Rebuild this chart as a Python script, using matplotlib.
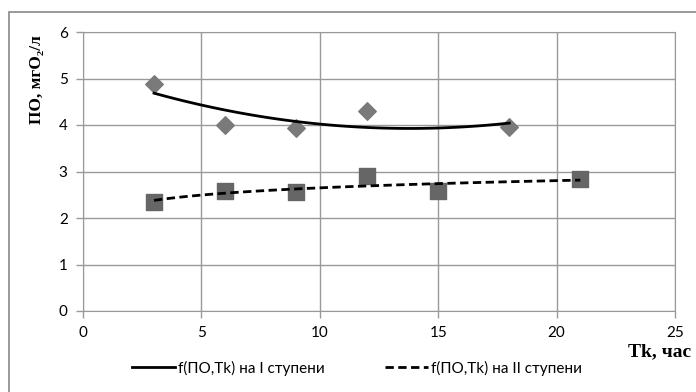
import matplotlib
matplotlib.use("Agg")
import matplotlib.pyplot as plt
import numpy as np
from matplotlib.patches import Rectangle

# данные
tk_stage1 = [3, 6, 9, 12, 18]
po_stage1 = [4.88, 4.01, 3.93, 4.30, 3.95]
tk_stage2 = [3, 6, 9, 12, 15, 21]
po_stage2 = [2.35, 2.58, 2.55, 2.90, 2.57, 2.83]

x_ticks = [0, 5, 10, 15, 20, 25]
y_ticks = [0, 1, 2, 3, 4, 5, 6]
label_stage1 = "f(ПО,Tk) на I ступени"
label_stage2 = "f(ПО,Tk) на II ступени"

TICK_FONT = "Lato"
TITLE_FONT = "Liberation Serif"

fig = plt.figure(figsize=(6.96, 3.92), dpi=100)
fig.patch.set_facecolor("white")
fig.patches.append(Rectangle((9 / 696, -0.1), 1.1, 1 - 12 / 392 + 0.1,
                             transform=fig.transFigure, fill=False,
                             edgecolor="#888888", linewidth=1.2))

ax = fig.add_axes([83 / 696, 1 - 311 / 392, (675 - 83) / 696, (311 - 32) / 392])

# трендовые линии: полином 2-й степени и логарифмическая
c1 = np.polyfit(tk_stage1, po_stage1, 2)
xs1 = np.linspace(min(tk_stage1), max(tk_stage1), 100)
ax.plot(xs1, np.polyval(c1, xs1), color="black", lw=2.0, zorder=4)

c2 = np.polyfit(np.log(tk_stage2), po_stage2, 1)
xs2 = np.linspace(min(tk_stage2), max(tk_stage2), 100)
ax.plot(xs2, np.polyval(c2, np.log(xs2)), color="black", lw=2.0,
        ls=(0, (3, 1.6)), zorder=4)

ax.scatter(tk_stage1, po_stage1, marker="D", s=80, color="#7a7a7a", zorder=3)
ax.scatter(tk_stage2, po_stage2, marker="s", s=120, color="#666666", zorder=3)

ax.set_xlim(0, 25)
ax.set_ylim(0, 6)
ax.set_xticks(x_ticks)
ax.set_yticks(y_ticks)
ax.grid(True, color="#999999", lw=1.0)
ax.set_axisbelow(True)
for side in ["top", "right", "left", "bottom"]:
    ax.spines[side].set_color("#999999")
ax.tick_params(colors="#999999", labelcolor="black", length=5, width=1,
               labelsize=11, pad=6)
for lbl in ax.get_xticklabels() + ax.get_yticklabels():
    lbl.set_fontfamily(TICK_FONT)

fig.text(37 / 696, 1 - 80 / 392, "ПО, мгО₂/л", rotation=90, ha="center",
         va="center", fontsize=12.5, fontweight="bold", family=TITLE_FONT)
fig.text(691 / 696, 1 - 352 / 392, "Tk, час", ha="right", va="center",
         fontsize=14, fontweight="bold", family=TITLE_FONT)

handles = ax.get_lines()
leg = fig.legend(handles, [label_stage1, label_stage2], loc="center",
                 bbox_to_anchor=(357 / 696, 1 - 368 / 392), ncol=2,
                 frameon=False, handlelength=2.8, handletextpad=0.2,
                 columnspacing=4.0, prop={"family": TICK_FONT, "size": 11})

fig.savefig("out.png", dpi=100)
